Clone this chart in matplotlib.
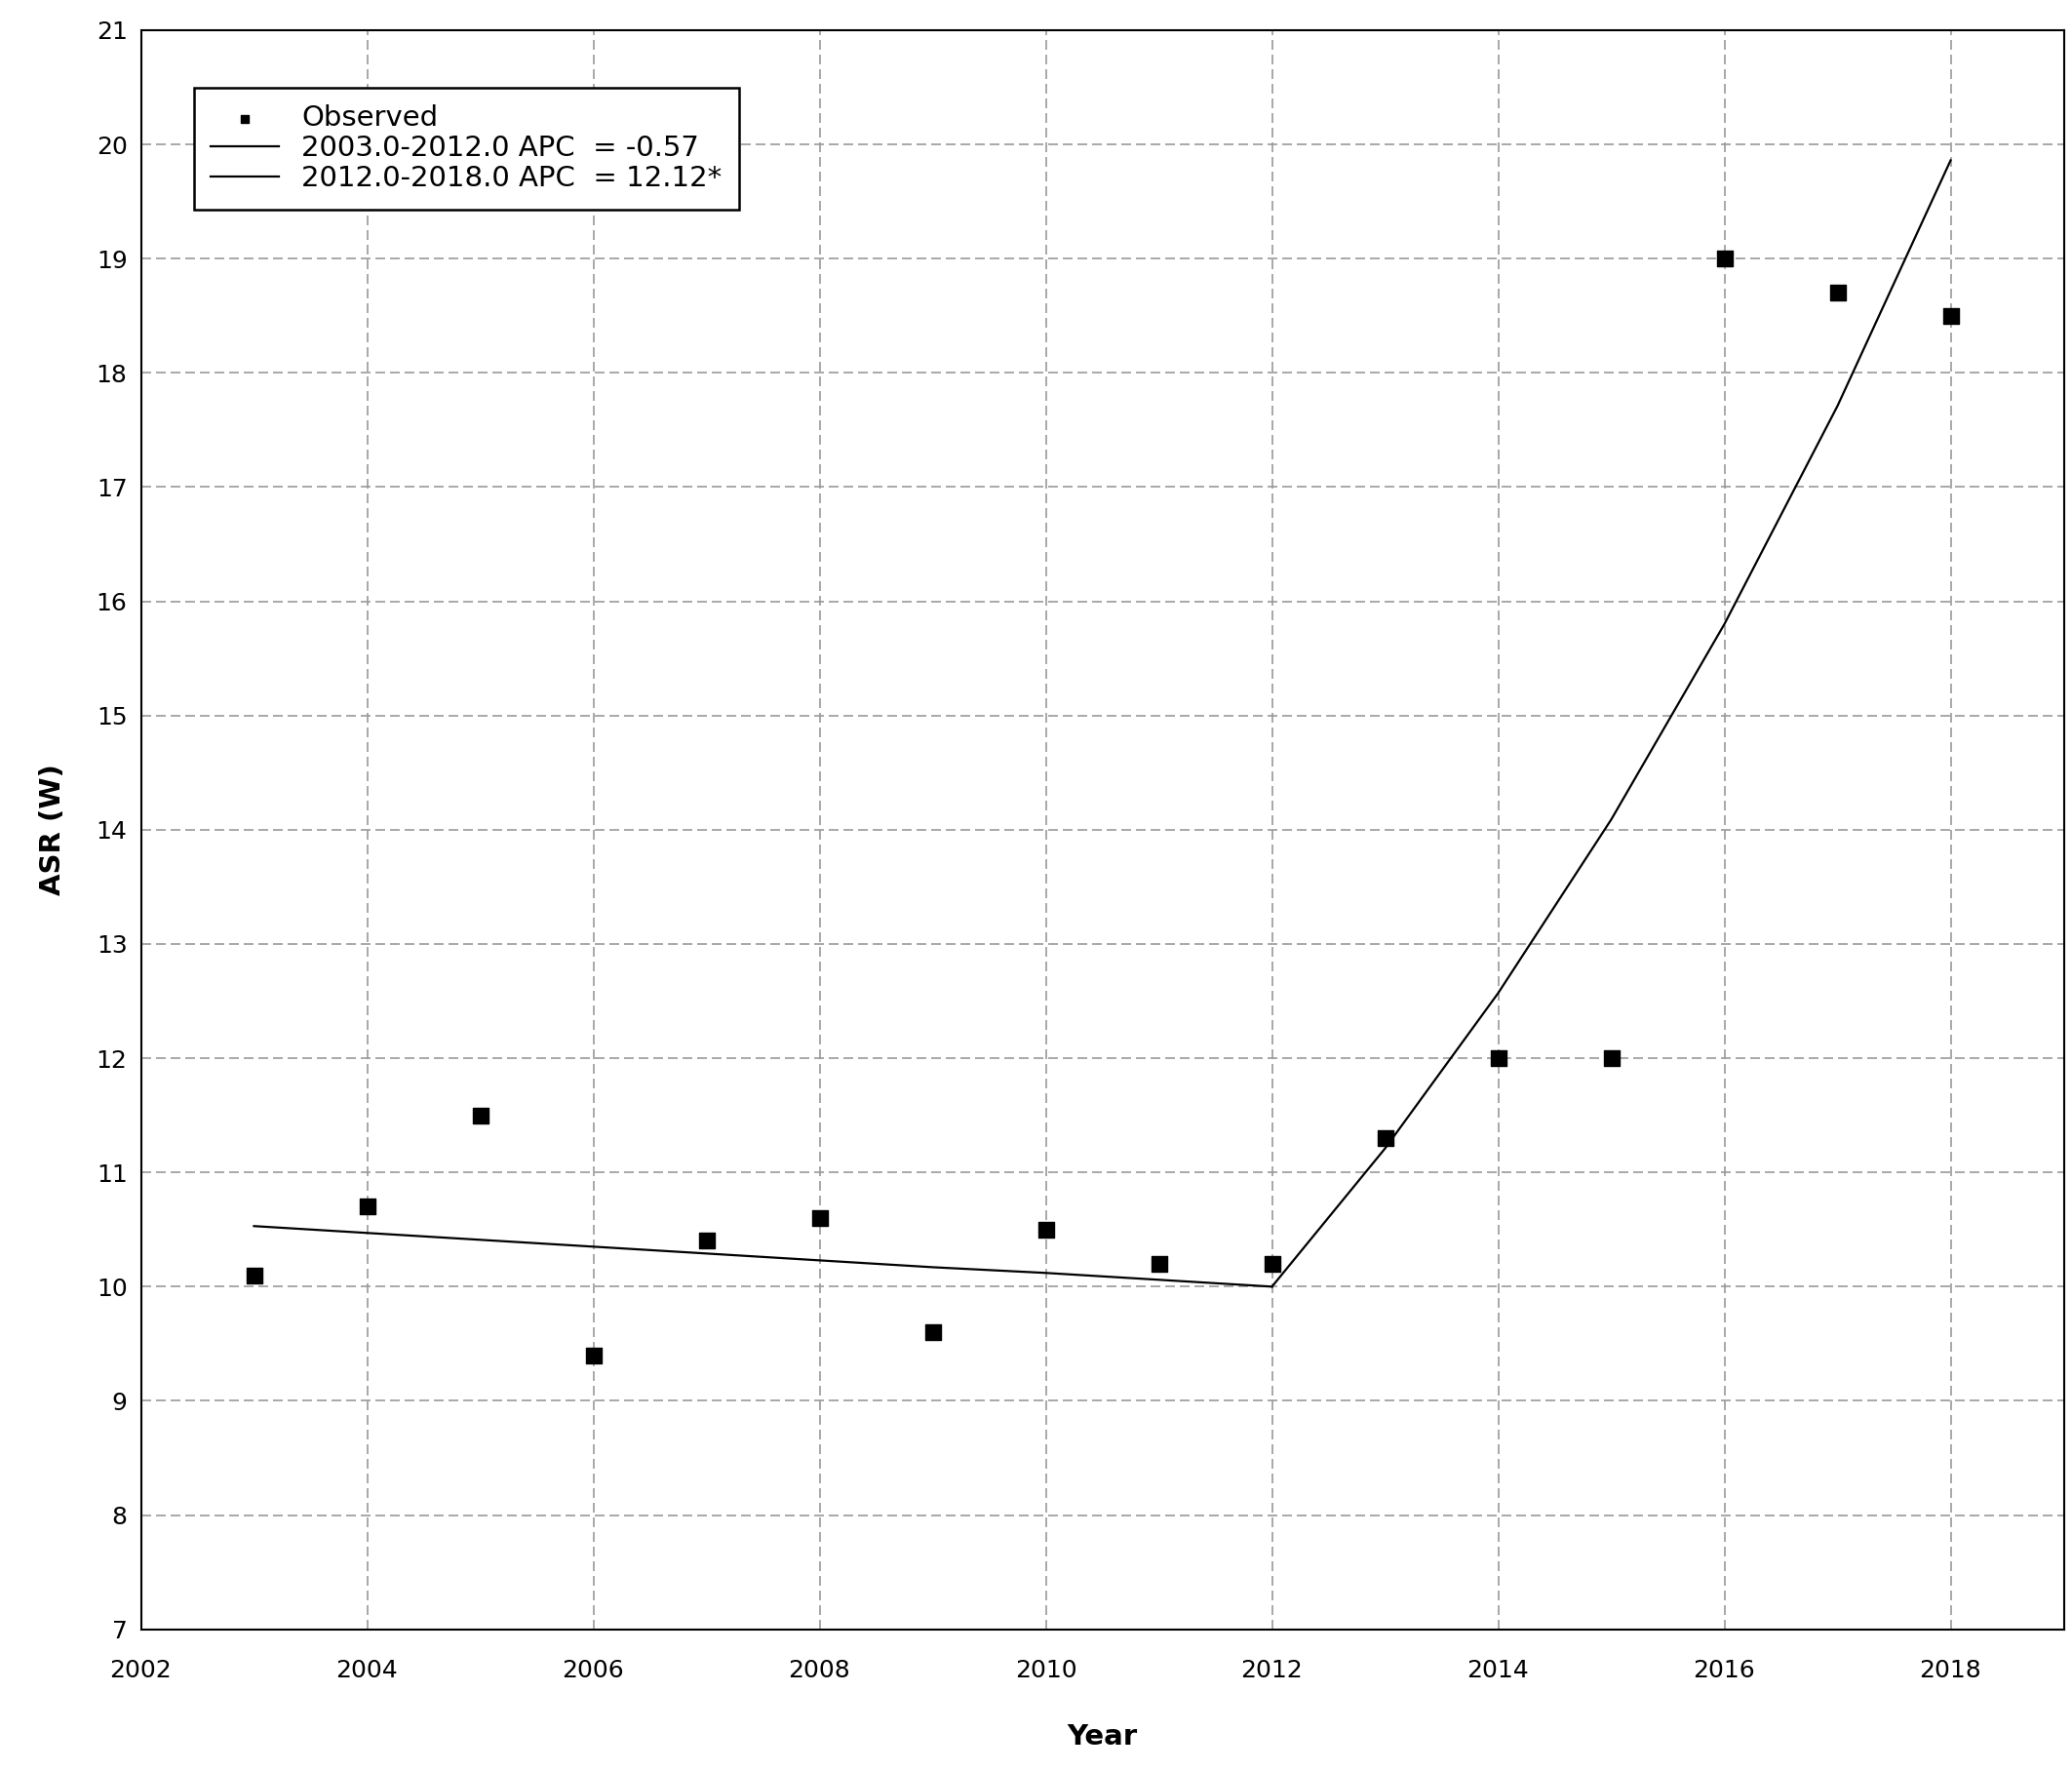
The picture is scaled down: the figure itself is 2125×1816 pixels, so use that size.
import matplotlib
matplotlib.use("Agg")
import matplotlib.pyplot as plt

# Observed age-standardised rates
years = [2003, 2004, 2005, 2006, 2007, 2008, 2009, 2010, 2011, 2012,
         2013, 2014, 2015, 2016, 2017, 2018]
observed = [10.1, 10.7, 11.5, 9.4, 10.4, 10.6, 9.6, 10.5, 10.2, 10.2,
            11.3, 12.0, 12.0, 19.0, 18.7, 18.5]

# Joinpoint fitted segments
seg1_years = [2003, 2004, 2005, 2006, 2007, 2008, 2009, 2010, 2011, 2012]
seg1_fit = [10.53, 10.47, 10.41, 10.35, 10.29, 10.23, 10.17, 10.12, 10.06, 10.0]
seg2_years = [2012, 2013, 2014, 2015, 2016, 2017, 2018]
seg2_fit = [10.0, 11.21, 12.57, 14.09, 15.8, 17.71, 19.86]

fig = plt.figure(figsize=(21.25, 18.16), dpi=100)
ax = fig.add_axes([0.068, 0.080, 0.928, 0.903])

ax.scatter(years, observed, marker="s", s=130, color="black", zorder=3,
           label="Observed")
ax.plot(seg1_years, seg1_fit, color="black", lw=1.6, zorder=2,
        label="2003.0-2012.0 APC  = -0.57")
ax.plot(seg2_years, seg2_fit, color="black", lw=1.6, zorder=2,
        label="2012.0-2018.0 APC  = 12.12*")

ax.set_xlim(2002, 2019)
ax.set_ylim(7, 21)
ax.set_xticks(range(2002, 2019, 2))
ax.set_yticks(range(7, 22))
ax.tick_params(labelsize=18, length=0, pad=10)
ax.tick_params(axis="x", pad=22)
ax.grid(True, color="#999999", linestyle=(0, (6, 3)), linewidth=1.2)
for s in ax.spines.values():
    s.set_linewidth(1.5)
ax.set_xlabel("Year", fontsize=21, fontweight="bold", labelpad=30)
ax.set_ylabel("ASR (W)", fontsize=21, fontweight="bold", labelpad=22)

leg = ax.legend(loc="upper left", bbox_to_anchor=(0.02, 0.973), fontsize=21,
                frameon=True, fancybox=False, framealpha=1, edgecolor="black",
                markerscale=0.55, handlelength=2.4, borderpad=0.6,
                labelspacing=0.1)
leg.get_frame().set_linewidth(1.8)

fig.savefig("out.png", dpi=100)
